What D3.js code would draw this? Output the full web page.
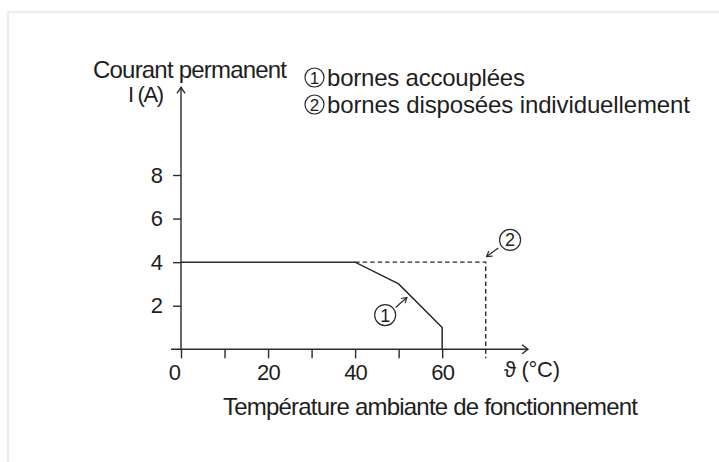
<!DOCTYPE html>
<html>
<head>
<meta charset="utf-8">
<script src="https://cdn.jsdelivr.net/npm/d3@7"></script>
<style>
  html, body { margin: 0; padding: 0; background: #fff; }
  svg { display: block; }
  text { font-family: "Liberation Sans", Arial, sans-serif; fill: #1e1e1e; }
</style>
</head>
<body>
<svg id="chart" width="719" height="462"></svg>
<script>
// ---- data ----
const xTickValues = [0, 10, 20, 30, 40, 50, 60];
const xTickLabels = [0, 20, 40, 60];
const yTickValues = [2, 4, 6, 8];
// curve 1: bornes accouplées (solid)
const curve1T = [0, 40, 50, 60, 60];
const curve1I = [4, 4, 3, 1, 0];
// curve 2: bornes disposées individuellement (dashed)
const curve2T = [40, 70, 70];
const curve2I = [4, 4, 0];
const legendItems = ["bornes accouplées", "bornes disposées individuellement"];
const legendNums = ["1", "2"];
// annotation callouts [circle t, circle I, arrow-start t, arrow-start I, arrow-end t, arrow-end I]
const callout1 = [46.9, 1.57, 49.3, 1.92, 51.9, 2.38];
const callout2 = [75.6, 5.02, 72.9, 4.65, 70.2, 4.26];

const svg = d3.select("#chart");
const ink = "#2a2a2a";

// faint frame
svg.append("rect").attr("x", 8).attr("y", 12).attr("width", 730).attr("height", 470)
  .attr("fill", "none").attr("stroke", "#eceeec").attr("stroke-width", 2.5);

const x = d3.scaleLinear().domain([0, 70]).range([181, 485.7]);
const y = d3.scaleLinear().domain([0, 8]).range([349.3, 175]);

// x axis ticks
const xAxis = d3.axisBottom(x).tickValues(xTickValues).tickSize(9).tickSizeOuter(0)
  .tickPadding(6)
  .tickFormat(d => xTickLabels.includes(d) ? String(d) : "");
const gx = svg.append("g").attr("transform", `translate(0,${y(0)})`).call(xAxis);
gx.select(".domain").remove();
gx.selectAll(".tick line").attr("stroke", ink).attr("stroke-width", 1.4);
gx.selectAll(".tick text").attr("font-size", 22).attr("fill", "#1e1e1e")
  .attr("font-family", "Liberation Sans, Arial, sans-serif")
  .attr("letter-spacing", -0.8)
  .attr("dx", d => d === 0 ? -7 : 0);

// y axis ticks
const yAxis = d3.axisLeft(y).tickValues(yTickValues).tickSize(8).tickSizeOuter(0).tickPadding(10);
const gy = svg.append("g").attr("transform", `translate(${x(0)},0)`).call(yAxis);
gy.select(".domain").remove();
gy.selectAll(".tick line").attr("stroke", ink).attr("stroke-width", 1.4);
gy.selectAll(".tick text").attr("font-size", 22).attr("fill", "#1e1e1e")
  .attr("font-family", "Liberation Sans, Arial, sans-serif");

// axis lines with open arrowheads
const xEnd = x(0) + 347, yTop = y(0) - 262;
svg.append("line").attr("x1", x(0) - 10).attr("x2", xEnd).attr("y1", y(0)).attr("y2", y(0))
  .attr("stroke", ink).attr("stroke-width", 1.4);
svg.append("path").attr("d", `M${xEnd - 6},${y(0) - 4.5}L${xEnd},${y(0)}L${xEnd - 6},${y(0) + 4.5}`)
  .attr("fill", "none").attr("stroke", ink).attr("stroke-width", 1.4);
svg.append("line").attr("x1", x(0)).attr("x2", x(0)).attr("y1", y(0)).attr("y2", yTop)
  .attr("stroke", ink).attr("stroke-width", 1.4);
svg.append("path").attr("d", `M${x(0) - 4},${yTop + 6}L${x(0)},${yTop}L${x(0) + 4},${yTop + 6}`)
  .attr("fill", "none").attr("stroke", ink).attr("stroke-width", 1.4);

// curves
const line = d3.line().x(d => x(d[0])).y(d => y(d[1]));
svg.append("path").attr("d", line(curve2T.map((t, i) => [t, curve2I[i]])))
  .attr("fill", "none").attr("stroke", ink).attr("stroke-width", 1.4)
  .attr("stroke-dasharray", "4.5,3");
// dashed tick below axis at 70
svg.append("line").attr("x1", x(70)).attr("x2", x(70)).attr("y1", y(0)).attr("y2", y(0) + 9)
  .attr("stroke", ink).attr("stroke-width", 1.4).attr("stroke-dasharray", "4.5,3");
svg.append("path").attr("d", line(curve1T.map((t, i) => [t, curve1I[i]])))
  .attr("fill", "none").attr("stroke", ink).attr("stroke-width", 1.5);

// callouts
function callout(c, num) {
  const cx = x(c[0]), cy = y(c[1]);
  svg.append("circle").attr("cx", cx).attr("cy", cy).attr("r", 10.5)
    .attr("fill", "none").attr("stroke", ink).attr("stroke-width", 1.2);
  svg.append("text").attr("x", cx).attr("y", cy + 6.5).attr("text-anchor", "middle")
    .attr("font-size", 18).text(num);
  const x1 = x(c[2]), y1 = y(c[3]), x2 = x(c[4]), y2 = y(c[5]);
  svg.append("line").attr("x1", x1).attr("y1", y1).attr("x2", x2).attr("y2", y2)
    .attr("stroke", ink).attr("stroke-width", 1.2);
  const ang = Math.atan2(y2 - y1, x2 - x1), L = 6, w = 0.55;
  const p1 = [x2 - L * Math.cos(ang - w), y2 - L * Math.sin(ang - w)];
  const p2 = [x2 - L * Math.cos(ang + w), y2 - L * Math.sin(ang + w)];
  svg.append("path").attr("d", `M${p1}L${x2},${y2}L${p2}`)
    .attr("fill", "none").attr("stroke", ink).attr("stroke-width", 1.2);
}
callout(callout1, "1");
callout(callout2, "2");

// axis titles
svg.append("text").attr("x", 93).attr("y", 78).attr("font-size", 24)
  .attr("textLength", 194).attr("lengthAdjust", "spacing").text("Courant permanent");
svg.append("text").attr("x", 128).attr("y", 102).attr("font-size", 22)
  .attr("textLength", 36).attr("lengthAdjust", "spacing").text("I (A)");
svg.append("text").attr("x", 504).attr("y", 377).attr("font-size", 22)
  .attr("letter-spacing", -0.3).text("ϑ (°C)");
svg.append("text").attr("x", 223).attr("y", 415).attr("font-size", 24)
  .attr("textLength", 415).attr("lengthAdjust", "spacing")
  .text("Température ambiante de fonctionnement");

// legend
const legendY = [86, 113];
const legendWidths = [198, 363];
legendItems.forEach((lab, i) => {
  const cy = legendY[i] - 8.5;
  svg.append("circle").attr("cx", 314.5).attr("cy", cy).attr("r", 9.5)
    .attr("fill", "none").attr("stroke", ink).attr("stroke-width", 1.2);
  svg.append("text").attr("x", 314.5).attr("y", cy + 6).attr("text-anchor", "middle")
    .attr("font-size", 17).text(legendNums[i]);
  svg.append("text").attr("x", 327).attr("y", legendY[i]).attr("font-size", 24)
    .attr("textLength", legendWidths[i]).attr("lengthAdjust", "spacing").text(lab);
});
</script>
</body>
</html>
